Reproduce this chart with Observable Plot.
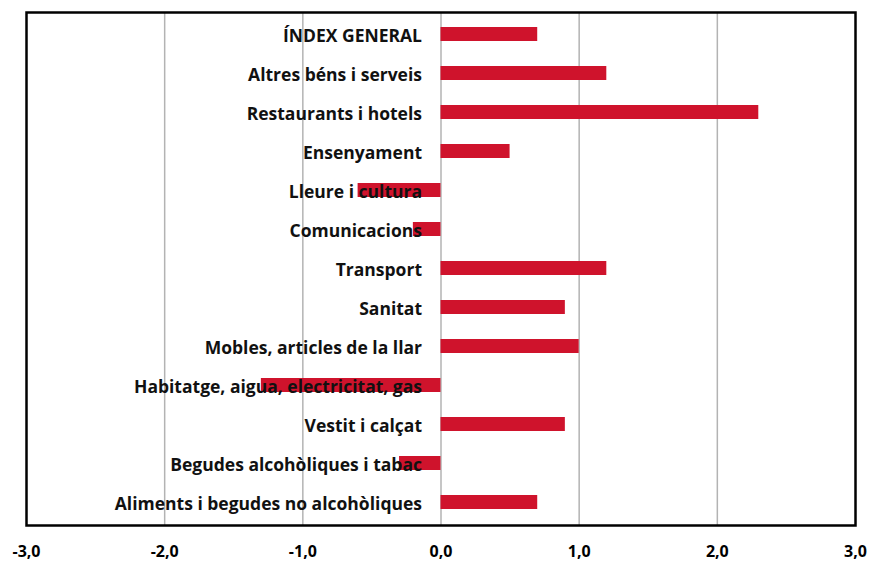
<!DOCTYPE html>
<html>
<head>
<meta charset="utf-8">
<script src="https://cdn.jsdelivr.net/npm/d3@7"></script>
<script src="https://cdn.jsdelivr.net/npm/@observablehq/plot@0.6"></script>
<style>
  html, body { margin: 0; padding: 0; background: #fff; }
  #chart svg { display: block; }
</style>
</head>
<body>
<div id="chart"></div>
<script>
const categories = [
  "ÍNDEX GENERAL",
  "Altres béns i serveis",
  "Restaurants i hotels",
  "Ensenyament",
  "Lleure i cultura",
  "Comunicacions",
  "Transport",
  "Sanitat",
  "Mobles, articles de la llar",
  "Habitatge, aigua, electricitat, gas",
  "Vestit i calçat",
  "Begudes alcohòliques i tabac",
  "Aliments i begudes no alcohòliques"
];
const values = [0.7, 1.2, 2.3, 0.5, -0.6, -0.2, 1.2, 0.9, 1.0, -1.3, 0.9, -0.3, 0.7];
const xTicks = [-3, -2, -1, 0, 1, 2, 3];
const gridTicks = [-2, -1, 0, 1, 2];

const data = categories.map((c, i) => ({category: c, value: values[i]}));
const fmt = d => d3.format(".1f")(d).replace(".", ",").replace("−", "-");

const chart = Plot.plot({
  width: 869,
  height: 563,
  marginLeft: 26,
  marginRight: 14,
  marginTop: 12,
  marginBottom: 38,
  style: {fontFamily: "'Open Sans', sans-serif", background: "#fff"},
  x: {domain: [-3, 3], ticks: xTicks, tickFormat: fmt, tickSize: 0, tickPadding: 20, label: null},
  y: {domain: categories, paddingInner: 0.64, paddingOuter: 0.3, axis: null},
  marks: [
    Plot.ruleX(gridTicks, {stroke: "#b3b3b3", strokeWidth: 1.5}),
    Plot.barX(data, {x1: 0, x2: "value", y: "category", fill: "#cf132c"}),
    Plot.text(data, {x: 0, y: "category", text: "category", dx: -19, dy: 1.5, textAnchor: "end", fontWeight: "bold", fontSize: 17.5, fill: "#111"}),
    Plot.frame({stroke: "#000", strokeWidth: 2.5}),
    Plot.axisX({ticks: xTicks, tickFormat: fmt, tickSize: 0, tickPadding: 20, fontWeight: "bold", fontSize: 16, label: null})
  ]
});
document.getElementById("chart").appendChild(chart);
</script>
</body>
</html>
